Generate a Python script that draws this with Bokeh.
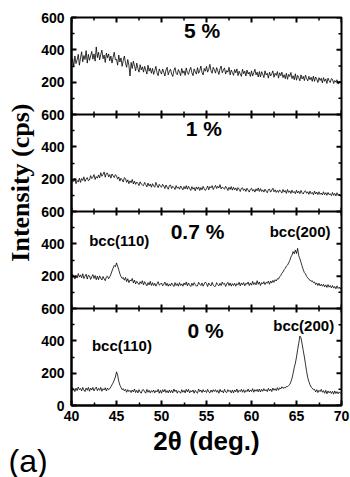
from bokeh.plotting import figure
from bokeh.models import FixedTicker, Span, Label, Title
from bokeh.embed import file_html
from bokeh.resources import INLINE

# 2theta grid (deg.), 0.125 deg step
two_theta = [40 + 0.125 * i for i in range(241)]

# Intensity (cps)
i_5pct = [320, 345, 298, 362, 315, 338, 372, 305,
          350, 388, 326, 365, 340, 395, 318, 372,
          335, 362, 390, 342, 375, 330, 418, 352,
          385, 338, 372, 398, 345, 368, 322, 380,
          350, 375, 332, 362, 318, 355, 385, 338,
          342, 305, 368, 325, 350, 298, 335, 362,
          318, 292, 340, 305, 238, 322, 285, 330,
          300, 270, 318, 285, 262, 308, 276, 295,
          262, 298, 275, 250, 305, 268, 288, 255,
          285, 248, 272, 298, 258, 240, 282, 265,
          250, 282, 262, 238, 276, 292, 245, 268,
          280, 250, 235, 272, 290, 255, 246, 278,
          262, 240, 285, 255, 270, 242, 288, 258,
          248, 275, 292, 258, 240, 282, 265, 250,
          290, 255, 272, 300, 260, 245, 285, 268,
          298, 262, 280, 310, 270, 255, 292, 276,
          256, 290, 270, 248, 282, 300, 258, 275,
          288, 250, 272, 262, 292, 245, 275, 260,
          242, 278, 258, 282, 240, 268, 250, 236,
          280, 252, 268, 238, 275, 250, 262, 235,
          270, 238, 258, 280, 245, 262, 232, 266,
          232, 265, 248, 228, 270, 245, 255, 225,
          262, 238, 252, 270, 230, 255, 242, 266,
          225, 258, 240, 262, 228, 246, 222, 255,
          218, 248, 235, 260, 222, 240, 215, 252,
          212, 242, 228, 208, 245, 220, 236, 210,
          244, 222, 208, 236, 215, 230, 205, 238,
          205, 232, 218, 198, 228, 210, 224, 195,
          228, 205, 220, 192, 225, 208, 198, 222,
          218, 192, 210, 200, 215, 188, 206, 196,
          205]
i_1pct = [178, 196, 185, 205, 172, 192, 182, 206,
          180, 204, 192, 214, 186, 200, 210, 190,
          195, 222, 204, 212, 228, 198, 216, 206,
          226, 208, 240, 218, 230, 245, 212, 236,
          238, 214, 228, 206, 232, 220, 210, 228,
          220, 200, 214, 188, 206, 196, 182, 210,
          204, 180, 196, 172, 190, 178, 198, 170,
          188, 168, 182, 174, 160, 184, 170, 164,
          160, 180, 166, 152, 176, 158, 170, 150,
          172, 158, 150, 180, 162, 148, 168, 156,
          150, 168, 158, 142, 164, 150, 138, 160,
          164, 142, 156, 148, 136, 160, 144, 152,
          138, 158, 146, 134, 154, 140, 160, 138,
          156, 142, 130, 154, 138, 148, 128, 152,
          138, 152, 130, 148, 134, 156, 140, 130,
          142, 158, 134, 154, 146, 160, 136, 150,
          162, 142, 156, 146, 166, 140, 152, 144,
          138, 156, 144, 130, 150, 136, 154, 132,
          150, 134, 146, 128, 148, 138, 124, 144,
          146, 130, 140, 124, 144, 132, 120, 138,
          144, 126, 136, 120, 140, 128, 146, 124,
          142, 124, 134, 120, 138, 126, 116, 136,
          138, 120, 132, 144, 122, 134, 118, 130,
          118, 134, 124, 114, 136, 120, 130, 112,
          136, 118, 128, 112, 132, 116, 124, 110,
          132, 114, 126, 110, 130, 116, 108, 124,
          128, 112, 122, 106, 126, 110, 118, 104,
          126, 108, 120, 104, 122, 106, 114, 102,
          122, 104, 116, 100, 118, 104, 110, 98,
          118, 100, 112, 96, 116, 100, 108, 94,
          112]
i_07pct = [190, 212, 198, 182, 205, 188, 216, 194,
           208, 190, 215, 185, 200, 212, 182, 206,
           202, 180, 196, 210, 186, 204, 178, 200,
           178, 202, 188, 176, 198, 184, 172, 196,
           200, 184, 196, 212, 232, 250, 266, 258,
           282, 262, 240, 215, 198, 186, 192, 175,
           192, 166, 184, 160, 176, 170, 186, 158,
           176, 152, 168, 158, 148, 166, 154, 172,
           146, 166, 152, 140, 160, 146, 168, 142,
           160, 142, 156, 138, 152, 166, 144, 150,
           158, 140, 150, 164, 142, 156, 138, 152,
           140, 158, 146, 136, 160, 142, 154, 138,
           160, 142, 152, 138, 158, 146, 164, 140,
           158, 144, 136, 156, 142, 160, 148, 138,
           140, 162, 150, 142, 158, 138, 152, 164,
           154, 136, 158, 146, 140, 162, 144, 136,
           138, 160, 148, 140, 156, 142, 164, 150,
           156, 136, 152, 162, 142, 158, 138, 154,
           142, 156, 138, 154, 146, 162, 140, 158,
           146, 160, 140, 156, 150, 164, 142, 158,
           144, 168, 148, 160, 146, 172, 150, 164,
           142, 160, 152, 166, 148, 162, 156, 170,
           150, 170, 158, 174, 162, 178, 170, 184,
           182, 196, 204, 218, 226, 240, 248, 262,
           268, 282, 296, 318, 330, 352, 338, 362,
           340, 372, 326, 308, 285, 262, 240, 222,
           214, 198, 190, 180, 176, 168, 172, 160,
           164, 148, 158, 142, 156, 140, 150, 138,
           150, 134, 146, 130, 148, 132, 142, 128,
           142, 126, 136, 122, 140, 124, 132, 120,
           135]
i_0pct = [94, 110, 100, 86, 108, 92, 114, 98,
          106, 90, 112, 96, 86, 108, 94, 112,
          88, 108, 96, 112, 90, 104, 114, 92,
          106, 94, 112, 88, 104, 96, 110, 90,
          108, 98, 104, 116, 128, 140, 158, 176,
          208, 188, 150, 126, 112, 98, 104, 90,
          100, 82, 98, 86, 94, 80, 96, 84,
          102, 80, 94, 78, 98, 84, 76, 96,
          98, 84, 76, 100, 82, 94, 78, 92,
          82, 96, 78, 92, 84, 100, 76, 94,
          76, 98, 84, 100, 80, 92, 78, 96,
          80, 94, 78, 102, 86, 96, 76, 90,
          86, 76, 98, 82, 94, 78, 100, 84,
          100, 78, 92, 84, 96, 76, 94, 82,
          76, 102, 86, 96, 80, 98, 84, 92,
          80, 100, 84, 78, 96, 82, 98, 86,
          98, 82, 94, 76, 100, 84, 92, 78,
          100, 84, 80, 98, 86, 94, 78, 96,
          78, 96, 84, 102, 80, 94, 86, 100,
          82, 98, 80, 94, 86, 102, 84, 96,
          86, 104, 82, 98, 88, 100, 84, 102,
          84, 100, 88, 104, 90, 98, 86, 106,
          90, 102, 86, 108, 94, 104, 92, 110,
          94, 110, 102, 116, 106, 112, 108, 118,
          116, 124, 130, 146, 168, 200, 236, 262,
          300, 345, 385, 430, 418, 380, 340, 300,
          255, 210, 172, 148, 128, 114, 108, 98,
          100, 84, 98, 80, 94, 86, 100, 82,
          92, 76, 94, 72, 90, 78, 88, 74,
          88, 70, 90, 74, 86, 72, 84, 76,
          80]

panel_labels = ["0 %", "0.7 %", "1 %", "5 %"]
series = [i_0pct, i_07pct, i_1pct, i_5pct]
panel_span = 600  # each panel 0..600 cps
x_major = [40, 45, 50, 55, 60, 65, 70]
x_minor = [42.5, 47.5, 52.5, 57.5, 62.5, 67.5]

SANS = "Liberation Sans"
SERIF = "Liberation Serif"

p = figure(width=350, height=477, x_range=(40, 70), y_range=(0, 2400),
           output_backend="svg", toolbar_location=None,
           min_border_left=71, min_border_right=9, min_border_top=17,
           min_border_bottom=72)
p.grid.visible = False
p.outline_line_color = "black"
p.outline_line_width = 2
p.background_fill_color = "white"
p.border_fill_color = "white"

for k, ys in enumerate(series):
    off = k * panel_span
    p.line(two_theta, [v + off for v in ys], line_color="black",
           line_width=0.8)

# y axis: ticks every 100 / 200 across stacked panels
y_major = list(range(0, 2401, 200))
y_minor = list(range(100, 2400, 200))
overrides = {}
for v in y_major:
    r = v % panel_span
    overrides[v] = "0" if v == 0 else ("600" if r == 0 else str(r))
ya = p.yaxis[0]
ya.ticker = FixedTicker(ticks=y_major, minor_ticks=y_minor)
ya.major_label_overrides = overrides
ya.major_tick_in = 5
ya.major_tick_out = 0
ya.minor_tick_in = 3
ya.minor_tick_out = 0
ya.axis_line_width = 2
ya.major_tick_line_width = 2
ya.minor_tick_line_width = 1.5
ya.major_label_text_font = SANS
ya.major_label_text_font_style = "bold"
ya.major_label_text_font_size = "14px"
ya.major_label_text_color = "black"
ya.major_label_standoff = 7

xa = p.xaxis[0]
xa.ticker = FixedTicker(ticks=x_major, minor_ticks=x_minor)
xa.major_tick_in = 5
xa.major_tick_out = 0
xa.minor_tick_in = 3
xa.minor_tick_out = 0
xa.axis_line_width = 2
xa.major_tick_line_width = 2
xa.minor_tick_line_width = 1.5
xa.major_label_text_font = SANS
xa.major_label_text_font_style = "bold"
xa.major_label_text_font_size = "14px"
xa.major_label_text_color = "black"
xa.major_label_standoff = 5
xa.axis_label = "2θ (deg.)"
xa.axis_label_text_font = SANS
xa.axis_label_text_font_style = "bold"
xa.axis_label_text_font_size = "26px"
xa.axis_label_text_color = "black"
xa.axis_label_standoff = 2

# panel separators
for k in range(1, 4):
    p.add_layout(Span(location=k * panel_span, dimension="width",
                      line_color="black", line_width=2))

# ticks crossing separators, top ticks, right ticks (lengths in data units)
ux = 30.0 / 270.0  # deg per px
uy = 2400.0 / 388.0  # cps per px
sx0, sx1, sy0, sy1, sw = [], [], [], [], []
for k in range(1, 4):
    b = k * panel_span
    for xv in x_major:
        sx0.append(xv); sx1.append(xv); sy0.append(b - 4 * uy); sy1.append(b + 4 * uy); sw.append(2)
    for xv in x_minor:
        sx0.append(xv); sx1.append(xv); sy0.append(b - 3 * uy); sy1.append(b + 3 * uy); sw.append(1.5)
for xv in x_major:
    sx0.append(xv); sx1.append(xv); sy0.append(2400); sy1.append(2400 - 5 * uy); sw.append(2)
for xv in x_minor:
    sx0.append(xv); sx1.append(xv); sy0.append(2400); sy1.append(2400 - 3 * uy); sw.append(1.5)
for yv in y_major:
    sx0.append(70); sx1.append(70 - 5 * ux); sy0.append(yv); sy1.append(yv); sw.append(2)
for yv in y_minor:
    sx0.append(70); sx1.append(70 - 3 * ux); sy0.append(yv); sy1.append(yv); sw.append(1.5)
p.segment(x0=sx0, x1=sx1, y0=sy0, y1=sy1, line_color="black", line_width=sw)

# panel labels
label_pos = [(54.9, 464), (54.0, 1076), (54.7, 1716), (54.5, 2320)]
for (xv, yv), t in zip(label_pos, panel_labels):
    p.add_layout(Label(x=xv, y=yv, text=t, text_font=SANS,
                       text_font_style="bold", text_font_size="21px",
                       text_color="black",
                       text_align="center", text_baseline="middle"))

peak_labels = [("bcc(110)", 45.6, 371), ("bcc(200)", 65.8, 495),
               ("bcc(110)", 45.3, 1020), ("bcc(200)", 65.4, 1076)]
for t, xv, yv in peak_labels:
    p.add_layout(Label(x=xv, y=yv, text=t, text_font=SANS,
                       text_font_style="bold", text_font_size="15px",
                       text_color="black",
                       text_align="center", text_baseline="middle"))

# y-axis title as a side title (lets it sit a bit above the frame centre)
p.add_layout(Title(text="Intensity (cps)", align="right", offset=86,
                   vertical_align="middle", standoff=6, text_font=SERIF,
                   text_font_style="bold", text_font_size="26px",
                   text_color="black"), "left")

# panel tag in the bottom margin (negative standoff so it overlaps the margin)
p.add_layout(Title(text="(a)", align="left", offset=-63, standoff=-36,
                   vertical_align="bottom", text_font=SANS,
                   text_font_style="normal", text_font_size="32px",
                   text_color="black"), "below")

with open("out.html", "w") as f:
    f.write(file_html(p, INLINE))
